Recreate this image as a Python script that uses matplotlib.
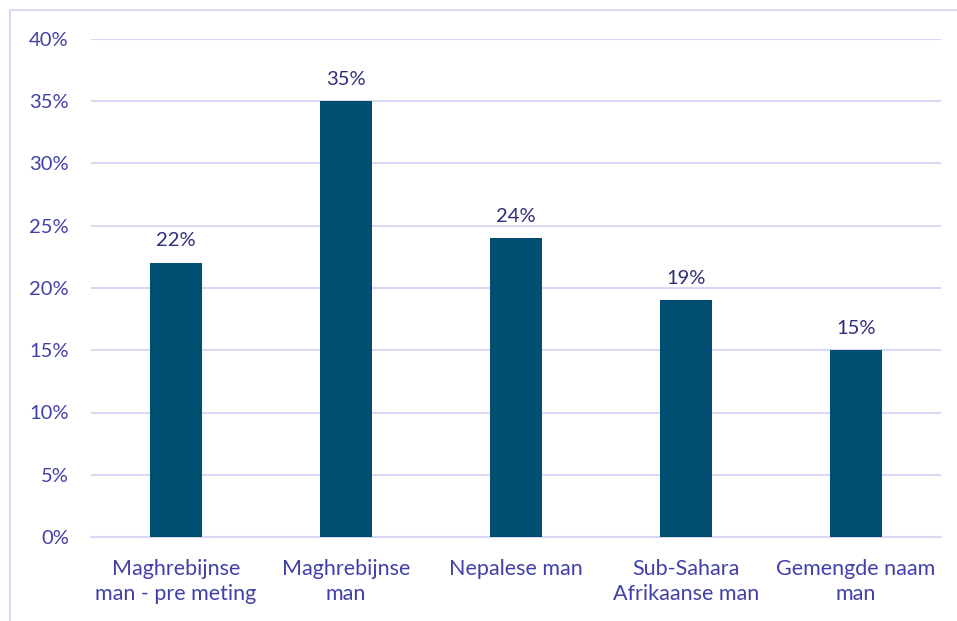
import matplotlib.pyplot as plt
from matplotlib.patches import Rectangle

categories = ['Maghrebijnse\nman - pre meting', 'Maghrebijnse\nman', 'Nepalese man',
              'Sub-Sahara\nAfrikaanse man', 'Gemengde naam\nman']
values = [22, 35, 24, 19, 15]
ticks = [0, 5, 10, 15, 20, 25, 30, 35, 40]

bar_color = '#004F73'
grid_color = '#D9D7F1'
text_color = '#4040A8'
label_color = '#2E2E7A'

plt.rcParams['font.family'] = ['Lato', 'DejaVu Sans']

fig = plt.figure(figsize=(9.57, 6.21), dpi=100)
ax = fig.add_axes([91 / 957, 1 - 537 / 621, 850 / 957, 498 / 621])

x = range(len(categories))
ax.bar(x, values, width=0.31, color=bar_color, zorder=3)
for xi, v in zip(x, values):
    ax.text(xi, v + 1.1, f'{v}%', ha='center', va='bottom', fontsize=14.5, color=label_color)

ax.set_ylim(0, 40)
ax.set_xlim(-0.5, len(categories) - 0.5)
ax.set_yticks(ticks)
ax.set_yticklabels([f'{t}%' for t in ticks])
ax.set_xticks(list(x))
ax.set_xticklabels(categories, linespacing=1.3, fontsize=15.5)
ax.tick_params(axis='both', length=0, colors=text_color)
ax.tick_params(axis='y', pad=16, labelsize=14.5)
ax.tick_params(axis='x', pad=16)
ax.yaxis.grid(True, color=grid_color, lw=1.5, zorder=0)
for s in ['top', 'right', 'left']:
    ax.spines[s].set_visible(False)
ax.spines['bottom'].set_color(grid_color)
ax.spines['bottom'].set_linewidth(1.5)

fig.patches.append(Rectangle((10 / 957, -0.1), 1.1, 1 - 10 / 621 + 0.1,
                             transform=fig.transFigure, fill=False,
                             edgecolor=grid_color, lw=1.5))

fig.savefig('out.png', dpi=100)
